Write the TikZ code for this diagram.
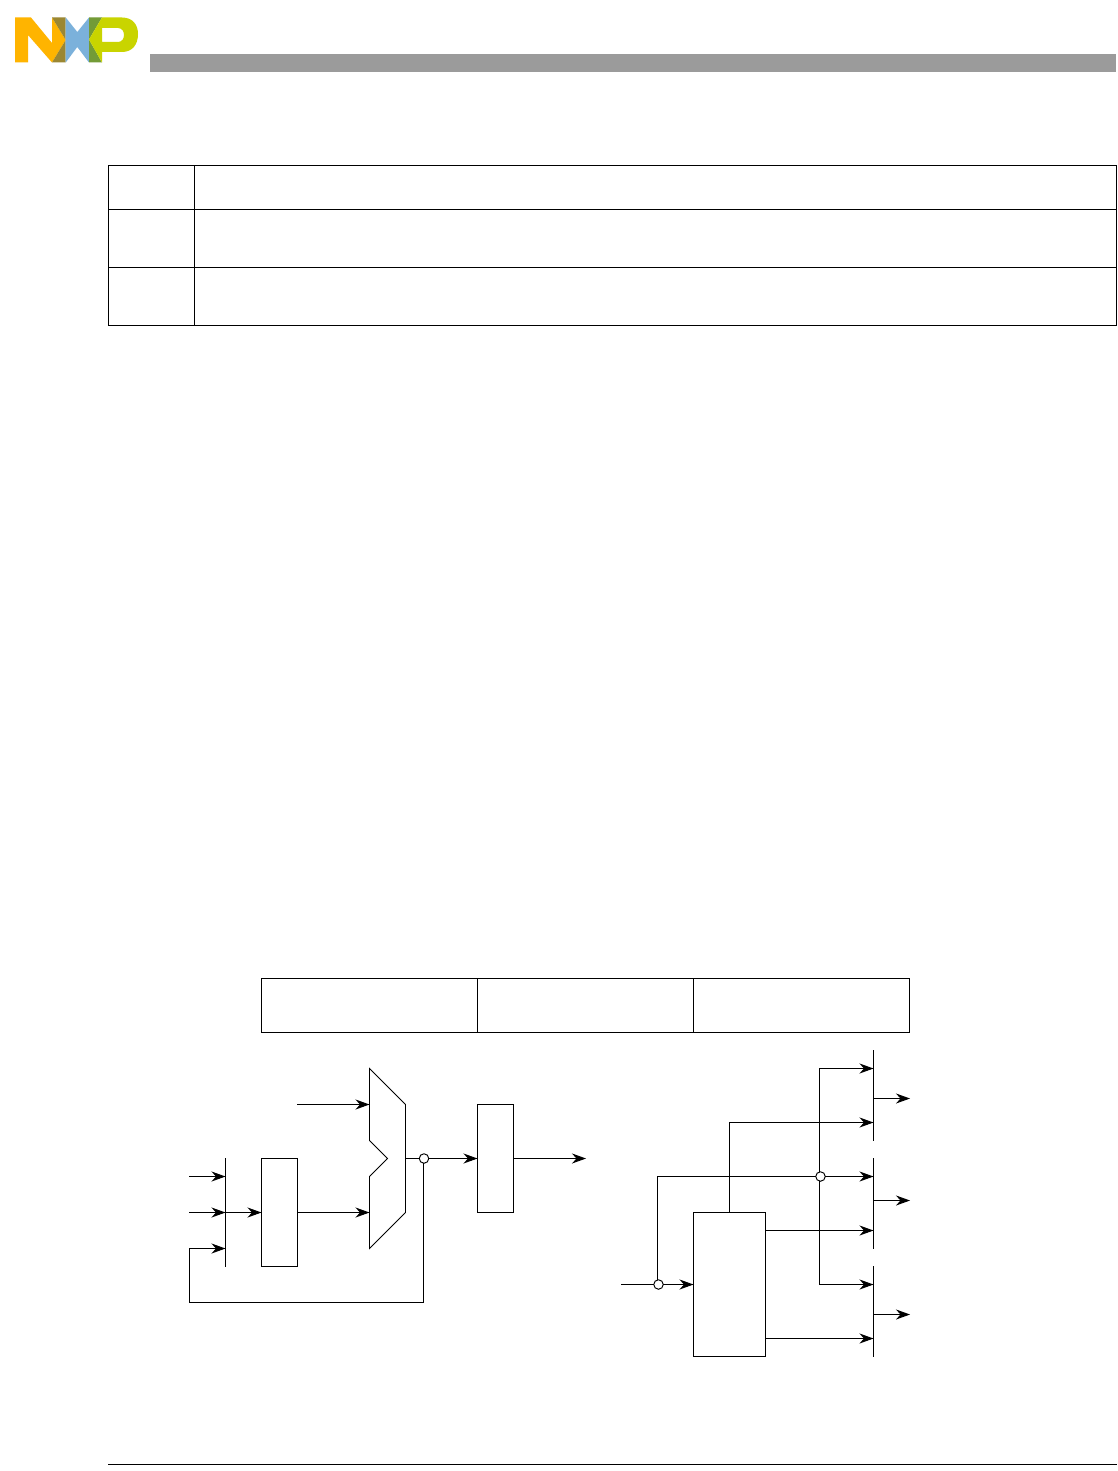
\documentclass[tikz,border=0pt]{standalone}
\usetikzlibrary{arrows.meta}
\definecolor{nxporange}{RGB}{255,180,0}
\definecolor{nxpbrown}{RGB}{155,135,50}
\definecolor{nxpblue}{RGB}{123,177,219}
\definecolor{nxpgreen}{RGB}{115,155,55}
\definecolor{nxplime}{RGB}{201,212,0}
\definecolor{bandgray}{RGB}{155,155,155}
\tikzset{
  wire/.style={draw=black,line width=0.95pt},
  sig/.style={wire,-{Stealth[length=14pt,width=10pt,inset=4.5pt]}},
  blockbox/.style={draw=black,line width=0.95pt,fill=white,minimum width=0pt,inner sep=0pt,outer sep=0pt},
  tap/.style={circle,draw=black,line width=0.95pt,fill=white,minimum size=9.5pt,inner sep=0pt,outer sep=0pt},
}
\begin{document}
\begin{tikzpicture}[x=1pt,y=-1pt]
\useasboundingbox (0,0) rectangle (1117,1471);
\fill[white] (0,0) rectangle (1117,1471);
% logo
\fill[nxporange] (15,17.5) -- (31,17.5) -- (52,43) -- (52,17.5) -- (65.7,40) -- (52,62.5) -- (28,35) -- (28,62.5) -- (15,62.5) -- cycle;
\fill[nxpbrown] (52,17.5) -- (65.7,17.5) -- (65.7,40) -- cycle;
\fill[nxpbrown] (65.7,40) -- (65.7,62.5) -- (52,62.5) -- cycle;
\fill[nxpblue] (65.7,17.5) -- (77.3,32) -- (89,17.5) -- (89,62.5) -- (77.3,47) -- (65.7,62.5) -- cycle;
\fill[nxpgreen] (89,17.5) -- (102,17.5) -- (89,39.5) -- cycle;
\fill[nxpgreen] (89,39.5) -- (102,62.5) -- (89,62.5) -- cycle;
\fill[nxplime,even odd rule] (89,39.5) -- (102,17.5) -- (122,17.5) .. controls (133,17.5) and (138,25) .. (138,34) .. controls (138,45) and (132,52) .. (122,52) -- (102,52) -- (102,62.5) -- cycle
 (102,28) -- (102,42) -- (118,42) .. controls (126,42) and (126,28) .. (118,28) -- cycle;
\fill[bandgray] (150,54) rectangle (1116,72);
% table
\draw[wire] (108.5,165.5) rectangle (1116.5,325.5);
\draw[wire] (108.5,209.5) -- (1116.5,209.5);
\draw[wire] (108.5,267.5) -- (1116.5,267.5);
\draw[wire] (194.5,165.5) -- (194.5,325.5);
% lower table
\draw[wire] (261.5,978.5) rectangle (909.5,1032.5);
\draw[wire] (477.5,978.5) -- (477.5,1032.5);
\draw[wire] (693.5,978.5) -- (693.5,1032.5);
% footer rule
\draw[wire] (108,1464.5) -- (1117,1464.5);
% left part
\coordinate (busA) at (225.5,1158);
\coordinate (busB) at (225.5,1266.5);
\draw[wire] (busA) -- (busB);
\node[blockbox,anchor=north west,minimum width=36pt,minimum height=108pt] (reg) at (261.5,1158.5) {};
\node[blockbox,anchor=north west,minimum width=36pt,minimum height=108pt] (out) at (477.5,1104.5) {};
\draw[wire,line join=miter] (369.5,1068.5) -- (405.5,1104.5) -- (405.5,1212.5) -- (369.5,1248.5) -- (369.5,1176.5) -- (387.5,1158.5) -- (369.5,1140.5) -- cycle;
\coordinate (muxA) at (369.5,1104.5);
\coordinate (muxB) at (369.5,1212.5);
\coordinate (muxO) at (405.5,1158.5);
\node[tap] (t1) at (424,1158.5) {};
\coordinate (i1) at (189,1176.5);
\coordinate (i1e) at (225.5,1176.5);
\coordinate (i2) at (189,1212.5);
\coordinate (i2e) at (225.5,1212.5);
\coordinate (fbe) at (225.5,1248.5);
\coordinate (s1) at (297,1104.5);
\coordinate (o1) at (586,1158.5);
\draw[sig] (i1) -- (i1e);
\draw[sig] (i2) -- (i2e);
\draw[sig] (i2e) -- (reg.west |- i2e);
\draw[sig] (reg.east |- muxB) -- (muxB);
\draw[sig] (s1) -- (muxA);
\draw[wire] (muxO) -- (t1);
\draw[sig] (t1) -- (out.west |- t1);
\draw[sig] (out.east |- t1) -- (o1);
\draw[sig] (423.5,1163) -- (423.5,1302.5) -- (189.5,1302.5) -- (189.5,1248.5) -- (fbe);
% right part
\node[blockbox,anchor=north west,minimum width=72pt,minimum height=144pt] (ctl) at (693.5,1212.5) {};
\foreach \n/\a/\b/\o in {p/1050/1140.5/1098.5,q/1158/1248.5/1200.5,r/1266/1356.5/1314.5}{
  \coordinate (\n a) at (873.5,\a);
  \coordinate (\n b) at (873.5,\b);
  \coordinate (\n i) at (873.5,\o);
  \coordinate (\n o) at (910,\o);
  \draw[wire] (\n a) -- (\n b);
  \draw[sig] (\n i) -- (\n o);
}
\node[tap] (t2) at (658.5,1284.5) {};
\node[tap] (t3) at (820.5,1176.5) {};
\coordinate (in) at (621,1284.5);
\draw[wire] (in) -- (t2);
\draw[sig] (t2) -- (ctl.west |- t2);
\draw[wire] (657.5,1280) -- (657.5,1176.5) -- (t3);
\draw[sig] (t3) -- (873.5,1176.5);
\draw[sig] (819.5,1172) -- (819.5,1068.5) -- (873.5,1068.5);
\draw[sig] (819.5,1181) -- (819.5,1284.5) -- (873.5,1284.5);
\draw[sig] (729.5,1212.5) -- (729.5,1122.5) -- (873.5,1122.5);
\draw[sig] (765.5,1230.5) -- (873.5,1230.5);
\draw[sig] (765.5,1338.5) -- (873.5,1338.5);
\end{tikzpicture}
\end{document}
